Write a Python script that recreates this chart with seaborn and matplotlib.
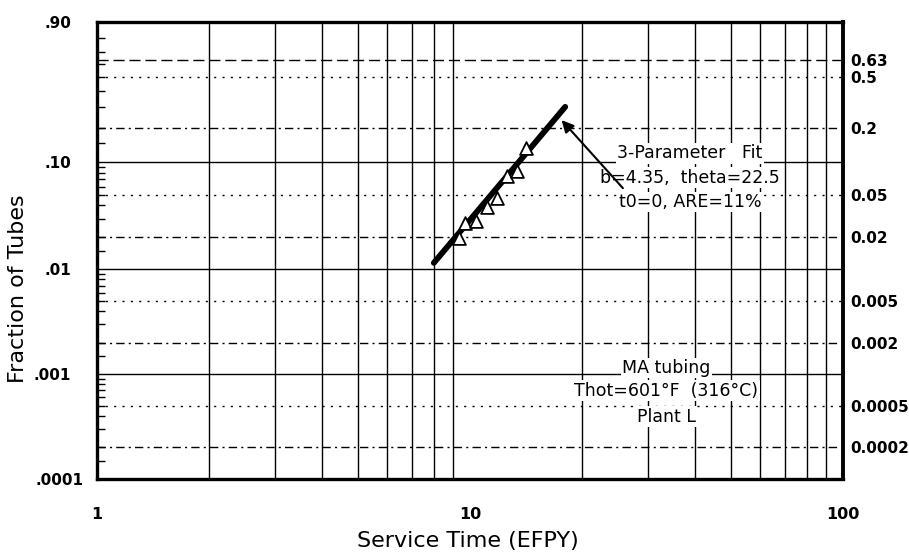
import numpy as np
import matplotlib
matplotlib.use("Agg")
import matplotlib.pyplot as plt
from matplotlib.ticker import FixedLocator, FixedFormatter, NullFormatter, NullLocator
import seaborn as sns

# ---------------- data ----------------
service_time = [9.34, 9.70, 10.38, 11.13, 11.79, 12.54, 13.35, 14.11]
fraction_failed = [0.0197, 0.0272, 0.0286, 0.0390, 0.0473, 0.0751, 0.0840, 0.1336]

fit_time = [8.0, 18.0]
fit_fraction = [0.0115, 0.30]

arrow_head = (17.6, 0.234)
arrow_tail = (25.7, 0.058)

x_ticks = [1, 10, 100]
x_tick_labels = ["1", "10", "100"]
left_ticks = [0.90, 0.10, 0.01, 0.001, 0.0001]
left_tick_labels = [".90", ".10", ".01", ".001", ".0001"]
right_ticks = [0.63, 0.5, 0.2, 0.05, 0.02, 0.005, 0.002, 0.0005, 0.0002]
right_tick_labels = ["0.63", "0.5", "0.2", "0.05", "0.02", "0.005", "0.002", "0.0005", "0.0002"]

grid_solid = [0.10, 0.01, 0.001]
grid_dashed = [0.63]
grid_dotted = [0.5, 0.05, 0.005, 0.0005]
grid_dashdot = [0.2, 0.02, 0.002, 0.0002]
vertical_grid = [2, 3, 4, 5, 6, 7, 8, 9, 20, 30, 40, 50, 60, 70, 80, 90]

fit_text = ["3-Parameter   Fit", "b=4.35,  theta=22.5", "t0=0, ARE=11%"]
plant_text = ["MA tubing", "Thot=601°F  (316°C)", "Plant L"]


# ---------------- Weibull probability scale ----------------
def weibull_fwd(F):
    F = np.clip(np.asarray(F, dtype=float), 1e-12, 1 - 1e-12)
    return np.log(-np.log1p(-F))


def weibull_inv(y):
    y = np.clip(np.asarray(y, dtype=float), -50, 5)
    return -np.expm1(-np.exp(y))


sns.set_theme(style="white", rc={
    "axes.edgecolor": "black", "xtick.color": "black", "ytick.color": "black",
    "text.color": "black", "axes.labelcolor": "black",
})
plt.rcParams["font.family"] = ["DejaVu Sans"]

W, H = 909, 552
fig = plt.figure(figsize=(W / 100, H / 100), dpi=100)
ax = fig.add_axes([97 / W, 1 - 479 / H, 746 / W, 457 / H])
ax.set_xscale("log")
ax.set_yscale("function", functions=(weibull_fwd, weibull_inv))
ax.set_xlim(1, 100)
ax.set_ylim(0.0001, 0.90)

# grid
for F in grid_solid:
    ax.axhline(F, color="black", lw=1.0, zorder=1)
for F in grid_dashed:
    ax.axhline(F, color="black", lw=1.0, ls=(0, (8, 3.5)), zorder=1)
for F in grid_dotted:
    ax.axhline(F, color="black", lw=1.0, ls=(0, (1.5, 4.5)), zorder=1)
for F in grid_dashdot:
    ax.axhline(F, color="black", lw=1.0, ls=(0, (6, 3, 1.5, 3)), zorder=1)
for v in vertical_grid:
    ax.axvline(v, color="black", lw=1.0, zorder=1)

# fit line and data
sns.lineplot(x=fit_time, y=fit_fraction, ax=ax, color="black", lw=4.2,
             solid_capstyle="round", errorbar=None, zorder=4)
sns.scatterplot(x=service_time, y=fraction_failed, ax=ax, marker="^", s=85,
                facecolor="white", edgecolor="black", linewidth=1.3, zorder=5)
ax.set_xlim(1, 100)
ax.set_ylim(0.0001, 0.90)

# arrow + annotations
ax.annotate("", xy=arrow_head, xytext=arrow_tail,
            arrowprops=dict(arrowstyle="-|>", color="black", lw=1.5,
                            mutation_scale=18, shrinkA=0, shrinkB=0), zorder=6)
box = dict(facecolor="white", edgecolor="none", pad=1.0)
for txt, yy in zip(fit_text, [0.713, 0.659, 0.606]):
    ax.text(0.795, yy, txt, transform=ax.transAxes, ha="center", va="center",
            fontsize=12.5, bbox=box, zorder=3)
for txt, yy in zip(plant_text, [0.243, 0.193, 0.136]):
    ax.text(0.763, yy, txt, transform=ax.transAxes, ha="center", va="center",
            fontsize=12.5, bbox=box, zorder=3)

# x axis ticks
ax.xaxis.set_major_locator(FixedLocator(x_ticks))
ax.xaxis.set_major_formatter(FixedFormatter(x_tick_labels))
minor_x = [1.2, 1.4, 1.6, 1.8] + [m / 2 for m in range(4, 20)]
minor_x = minor_x + [m * 10 for m in minor_x]
ax.xaxis.set_minor_locator(FixedLocator(minor_x))
ax.xaxis.set_minor_formatter(NullFormatter())
ax.tick_params(axis="x", which="major", direction="out", length=4, width=1.2,
               pad=16.5, labelsize=11.5)
ax.tick_params(axis="x", which="minor", direction="out", length=3, width=1.0)
for lab in ax.get_xticklabels():
    lab.set_fontweight("bold")

# left y axis ticks
ax.yaxis.set_major_locator(FixedLocator(left_ticks))
ax.yaxis.set_major_formatter(FixedFormatter(left_tick_labels))
minor_y = [m * 10.0 ** e for e in (-4, -3, -2, -1)
           for m in (1.5, 2, 3, 4, 5, 6, 7, 8, 9) if m * 10.0 ** e < 0.85]
ax.yaxis.set_minor_locator(FixedLocator(minor_y))
ax.yaxis.set_minor_formatter(NullFormatter())
ax.tick_params(axis="y", which="major", direction="out", length=0, pad=18.5,
               labelsize=11)
ax.tick_params(axis="y", which="minor", direction="in", length=5.5, width=1.0)
for lab in ax.get_yticklabels():
    lab.set_fontweight("bold")
bottom_tick = ax.yaxis.get_major_ticks()[-1]
bottom_tick.tick1line.set_markersize(6.5)
bottom_tick.tick1line.set_markeredgewidth(1.5)
bottom_tick.set_pad(10)

for side in ["left", "bottom", "top"]:
    ax.spines[side].set_linewidth(2.4)
ax.spines["right"].set_linewidth(2.8)

# right y axis
ax2 = ax.twinx()
ax2.set_yscale("function", functions=(weibull_fwd, weibull_inv))
ax2.set_ylim(0.0001, 0.90)
ax2.yaxis.set_major_locator(FixedLocator(right_ticks))
ax2.yaxis.set_major_formatter(FixedFormatter(right_tick_labels))
ax2.yaxis.set_minor_locator(NullLocator())
ax2.tick_params(axis="y", which="major", length=0, pad=5, labelsize=11)
for lab in ax2.get_yticklabels():
    lab.set_fontweight("bold")
for s in ax2.spines.values():
    s.set_visible(False)

# axis labels
ax.set_xlabel("Service Time (EFPY)", fontsize=16)
ax.set_ylabel("Fraction of Tubes", fontsize=16)
ax.xaxis.set_label_coords(0.497, -0.113)
ax.yaxis.set_label_coords(-0.0925, 0.416)

fig.savefig("out.png", dpi=100)
